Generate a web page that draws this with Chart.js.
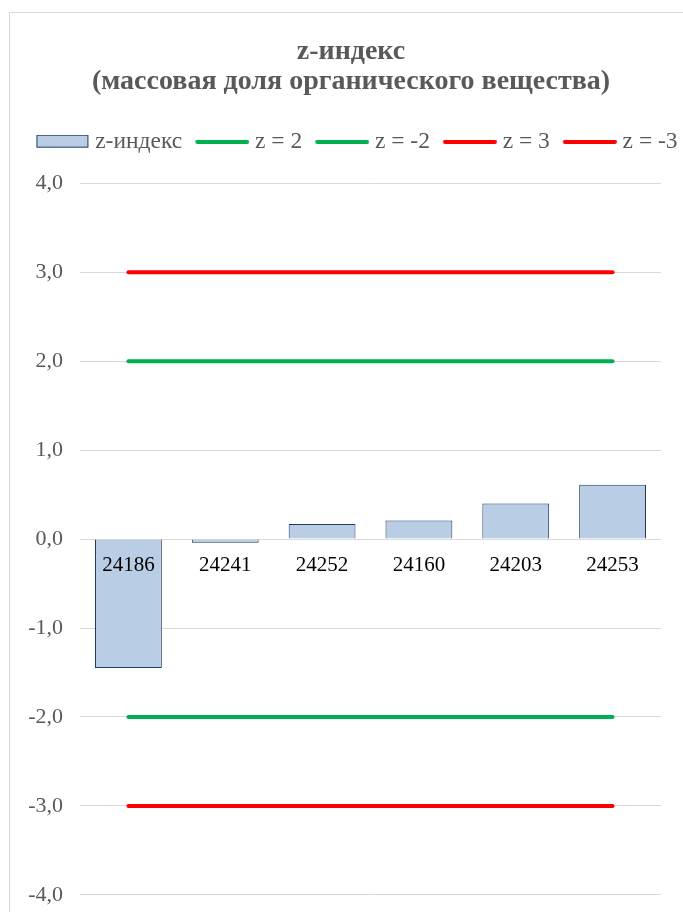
<!DOCTYPE html>
<html>
<head>
<meta charset="utf-8">
<script src="https://cdn.jsdelivr.net/npm/chart.js@4"></script>
<style>
html, body { margin: 0; padding: 0; background: #fff; overflow: hidden; }
#box { position: absolute; left: 9px; top: 12px; width: 679px; height: 930px; border: 1px solid #d9d9d9; }
canvas { display: block; }
</style>
</head>
<body>
<div id="box"><canvas id="chart" width="679" height="912"></canvas></div>
<script>
// данные с картинки
const labels = ['24186', '24241', '24252', '24160', '24203', '24253'];
const zValues = [-1.45, -0.04, 0.17, 0.21, 0.40, 0.61];
const zPlus2 = [2, 2, 2, 2, 2, 2];
const zMinus2 = [-2, -2, -2, -2, -2, -2];
const zPlus3 = [3, 3, 3, 3, 3, 3];
const zMinus3 = [-3, -3, -3, -3, -3, -3];
const titleLines = ['z-индекс', '(массовая доля органического вещества)'];

const barFill = '#b9cde5';
const barLine = '#1f3864';
const green = '#00b050';
const red = '#ff0000';

Chart.defaults.font.family = '"Liberation Serif", "Times New Roman", serif';
Chart.defaults.font.size = 21;

// значки легенды: прямоугольник и линии
function icon(kind, color) {
  const c = document.createElement('canvas');
  c.width = 65;
  c.height = kind === 'box' ? 14 : 4;
  const g = c.getContext('2d');
  if (kind === 'box') {
    g.fillStyle = barFill;
    g.fillRect(12, 0, 52, 13);
    g.strokeStyle = barLine;
    g.lineWidth = 1;
    g.strokeRect(12.5, 0.5, 51, 12);
  } else {
    g.fillStyle = color;
    g.beginPath();
    g.roundRect(11, 0, 54, 4, 2);
    g.fill();
  }
  return c;
}
const legendIcons = [icon('box'), icon('line', green), icon('line', green), icon('line', red), icon('line', red)];

// отступ под легендой и небольшой сдвиг вправо
const legendGap = {
  id: 'legendGap',
  beforeInit(chart) {
    const fit = chart.legend.fit;
    const draw = chart.legend.draw;
    chart.legend.fit = function() {
      fit.bind(chart.legend)();
      this.height += 20;
    };
    chart.legend.draw = function() {
      this.ctx.save();
      this.ctx.translate(3, 0);
      draw.bind(chart.legend)();
      this.ctx.restore();
    };
  }
};

function lineSet(label, data, color) {
  return {
    type: 'line',
    label: label,
    data: data,
    borderColor: color,
    backgroundColor: color,
    borderWidth: 4,
    borderCapStyle: 'round',
    pointRadius: 0,
    fill: false
  };
}

new Chart(document.getElementById('chart').getContext('2d'), {
  type: 'bar',
  data: {
    labels: labels,
    datasets: [
      {
        label: 'z-индекс',
        data: zValues,
        backgroundColor: barFill,
        borderColor: barLine,
        borderWidth: 1,
        barPercentage: 0.69,
        categoryPercentage: 1
      },
      lineSet('z = 2', zPlus2, green),
      lineSet('z = -2', zMinus2, green),
      lineSet('z = 3', zPlus3, red),
      lineSet('z = -3', zMinus3, red)
    ]
  },
  options: {
    responsive: false,
    animation: false,
    layout: { padding: { left: 3, right: 0, top: 0, bottom: 5 } },
    plugins: {
      title: {
        display: true,
        text: titleLines,
        color: '#595959',
        font: { size: 28, weight: 'bold', lineHeight: 1.07 },
        padding: { top: 24, bottom: 25 }
      },
      legend: {
        position: 'top',
        labels: {
          color: '#595959',
          font: { size: 23.5 },
          usePointStyle: true,
          pointStyleWidth: 53,
          padding: 8,
          generateLabels(chart) {
            const items = Chart.defaults.plugins.legend.labels.generateLabels(chart);
            items.forEach((it, i) => { it.pointStyle = legendIcons[i]; });
            return items;
          }
        }
      },
      tooltip: { enabled: false }
    },
    scales: {
      x: {
        position: { y: 0 },
        grid: { display: false, drawTicks: false },
        border: { display: false },
        ticks: { z: 1, color: '#000', padding: 14, maxRotation: 0, font: { size: 21 } }
      },
      y: {
        min: -4,
        max: 4,
        grid: { color: '#d9d9d9', drawTicks: false },
        border: { display: false },
        ticks: {
          stepSize: 1,
          color: '#595959',
          padding: 17,
          font: { size: 22 },
          callback: v => v.toFixed(1).replace('.', ',')
        },
        afterFit(s) { s.width = 67; }
      },
      yRight: {
        position: 'right',
        grid: { display: false },
        border: { display: false },
        ticks: { display: false },
        afterFit(s) { s.width = 28; }
      }
    }
  },
  plugins: [legendGap]
});
</script>
</body>
</html>
